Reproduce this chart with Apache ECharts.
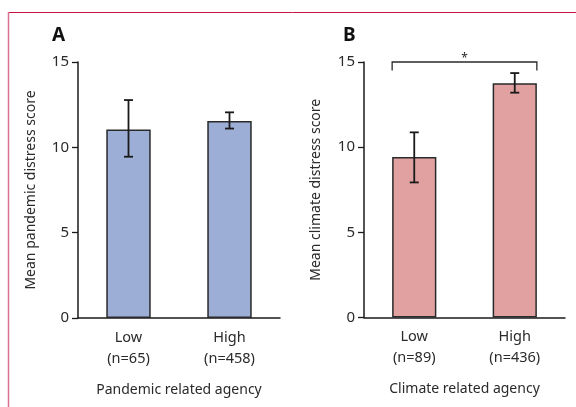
<!DOCTYPE html>
<html><head><meta charset="utf-8">
<script src="https://cdn.jsdelivr.net/npm/echarts@6/dist/echarts.min.js"></script>
<style>html,body{margin:0;padding:0;background:#fff}#c{width:576px;height:407px}</style>
</head><body><div id="c"></div>
<script>
const categoriesA = ['Low\n(n=65)', 'High\n(n=458)'];
const meansA = [11.05, 11.55];
const lowerA = [9.45, 11.1];
const upperA = [12.77, 12.05];
const categoriesB = ['Low\n(n=89)', 'High\n(n=436)'];
const meansB = [9.42, 13.75];
const lowerB = [7.93, 13.2];
const upperB = [10.87, 14.35];
const yTicks = [0, 5, 10, 15];
const bracketB = { from: 0, to: 1, y: 15, tip: 14.5, label: '*' };

const FONT = 'Noto Sans';
const txt = '#2a2a2a';
const chart = echarts.init(document.getElementById('c'));

function xAxis(gi, cats, name) {
  return {
    type: 'category', gridIndex: gi, data: cats, boundaryGap: true,
    axisLine: { lineStyle: { color: '#1a1a1a', width: 1.5 } },
    axisTick: { length: 8, lineStyle: { color: '#1a1a1a', width: 1.3 } },
    axisLabel: { color: txt, fontSize: 14.5, fontFamily: FONT, lineHeight: 21, margin: 9 },
    name: name, nameLocation: 'middle', nameGap: 65,
    nameTextStyle: { color: txt, fontSize: 14, fontFamily: FONT }
  };
}
function yAxis(gi, name, gap) {
  return {
    type: 'value', gridIndex: gi, min: yTicks[0], max: yTicks[yTicks.length - 1], interval: 5,
    splitLine: { show: false },
    axisLine: { show: true, lineStyle: { color: '#1a1a1a', width: 1.5 } },
    axisTick: { show: true, length: 6, lineStyle: { color: '#1a1a1a', width: 1.3 } },
    axisLabel: { color: txt, fontSize: 15, fontFamily: FONT, margin: 9 },
    name: name, nameLocation: 'middle', nameRotate: 90, nameGap: gap,
    nameTextStyle: { color: txt, fontSize: 14, fontFamily: FONT }
  };
}
function errSeries(gi, lo, hi) {
  return {
    type: 'custom', xAxisIndex: gi, yAxisIndex: gi, z: 5,
    data: lo.map((v, i) => [i, v, hi[i]]),
    renderItem: function (params, api) {
      const a = api.coord([api.value(0), api.value(1)]);
      const b = api.coord([api.value(0), api.value(2)]);
      const w = 4.5;
      const st = { stroke: '#1a1a1a', lineWidth: 1.8 };
      return { type: 'group', children: [
        { type: 'line', shape: { x1: a[0], y1: a[1], x2: b[0], y2: b[1] }, style: st },
        { type: 'line', shape: { x1: a[0] - w, y1: a[1], x2: a[0] + w, y2: a[1] }, style: st },
        { type: 'line', shape: { x1: b[0] - w, y1: b[1], x2: b[0] + w, y2: b[1] }, style: st }
      ] };
    }
  };
}
function barSeries(gi, data, color) {
  return {
    type: 'bar', xAxisIndex: gi, yAxisIndex: gi, data: data, barWidth: '44%',
    itemStyle: { color: color, borderColor: '#2a2a2a', borderWidth: 1.5 }
  };
}

chart.setOption({
  animation: false,
  grid: [
    { left: 78, right: 296, top: 62, bottom: 89 },
    { left: 364, right: 11, top: 62, bottom: 89.5 }
  ],
  xAxis: [xAxis(0, categoriesA, 'Pandemic related agency'), xAxis(1, categoriesB, 'Climate related agency')],
  yAxis: [yAxis(0, 'Mean pandemic distress score', 40), yAxis(1, 'Mean climate distress score', 41)],
  series: [
    barSeries(0, meansA, '#9daed6'),
    errSeries(0, lowerA, upperA),
    barSeries(1, meansB, '#e0a1a0'),
    errSeries(1, lowerB, upperB),
    {
      type: 'custom', xAxisIndex: 1, yAxisIndex: 1, z: 6, clip: false,
      data: [[bracketB.from, bracketB.to, bracketB.y, bracketB.tip]],
      renderItem: function (params, api) {
        const half = api.size([1, 0])[0] * 0.22;
        const p1 = api.coord([api.value(0), api.value(2)]);
        const p2 = api.coord([api.value(1), api.value(2)]);
        const t = api.coord([api.value(0), api.value(3)]);
        const x1 = p1[0] - half, x2 = p2[0] + half;
        return { type: 'group', children: [
          { type: 'polyline', shape: { points: [[x1, t[1]], [x1, p1[1]], [x2, p1[1]], [x2, t[1]]] },
            style: { stroke: '#2a2a2a', lineWidth: 1.3, fill: null } },
          { type: 'text', style: { text: bracketB.label, x: (x1 + x2) / 2, y: p1[1] - 3,
            align: 'center', verticalAlign: 'middle', fill: txt, fontSize: 12, fontFamily: FONT } }
        ] };
      }
    }
  ],
  graphic: [
    { type: 'line', shape: { x1: 9, y1: 12.5, x2: 576, y2: 12.5 }, style: { stroke: '#c8143c', lineWidth: 1 } },
    { type: 'line', shape: { x1: 8.5, y1: 12, x2: 8.5, y2: 407 }, style: { stroke: '#d9708f', lineWidth: 1.5 } },
    { type: 'text', left: 52, top: 26, style: { text: 'A', fontSize: 19, fontWeight: 'bold', fill: '#111', fontFamily: FONT } },
    { type: 'text', left: 343, top: 26, style: { text: 'B', fontSize: 19, fontWeight: 'bold', fill: '#111', fontFamily: FONT } }
  ]
});
</script></body></html>
